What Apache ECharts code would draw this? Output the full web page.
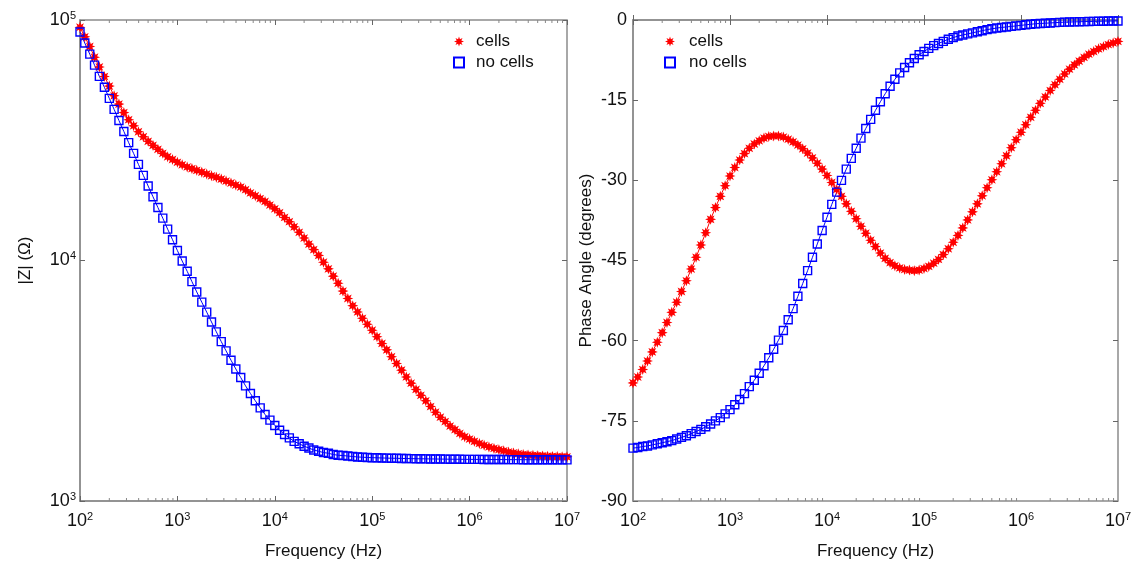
<!DOCTYPE html>
<html>
<head>
<meta charset="utf-8">
<script src="https://cdn.jsdelivr.net/npm/echarts@6/dist/echarts.min.js"></script>
<style>
  html, body { margin: 0; padding: 0; background: #fff; }
  #main { width: 1143px; height: 567px; }
</style>
</head>
<body>
<div id="main"></div>
<script>
// frequency grid (Hz), 20 points per decade
const freq = [
  1.00e2, 1.12e2, 1.26e2, 1.41e2, 1.58e2, 1.78e2, 2.00e2, 2.24e2, 2.51e2, 2.82e2,
  3.16e2, 3.55e2, 3.98e2, 4.47e2, 5.01e2, 5.62e2, 6.31e2, 7.08e2, 7.94e2, 8.91e2,
  1.00e3, 1.12e3, 1.26e3, 1.41e3, 1.58e3, 1.78e3, 2.00e3, 2.24e3, 2.51e3, 2.82e3,
  3.16e3, 3.55e3, 3.98e3, 4.47e3, 5.01e3, 5.62e3, 6.31e3, 7.08e3, 7.94e3, 8.91e3,
  1.00e4, 1.12e4, 1.26e4, 1.41e4, 1.58e4, 1.78e4, 2.00e4, 2.24e4, 2.51e4, 2.82e4,
  3.16e4, 3.55e4, 3.98e4, 4.47e4, 5.01e4, 5.62e4, 6.31e4, 7.08e4, 7.94e4, 8.91e4,
  1.00e5, 1.12e5, 1.26e5, 1.41e5, 1.58e5, 1.78e5, 2.00e5, 2.24e5, 2.51e5, 2.82e5,
  3.16e5, 3.55e5, 3.98e5, 4.47e5, 5.01e5, 5.62e5, 6.31e5, 7.08e5, 7.94e5, 8.91e5,
  1.00e6, 1.12e6, 1.26e6, 1.41e6, 1.58e6, 1.78e6, 2.00e6, 2.24e6, 2.51e6, 2.82e6,
  3.16e6, 3.55e6, 3.98e6, 4.47e6, 5.01e6, 5.62e6, 6.31e6, 7.08e6, 7.94e6, 8.91e6,
  1.00e7
];

// |Z| in ohm
const cellsZ = [
  93300, 85100, 77600, 70000, 63800, 58200, 53100, 48400, 44700, 41200,
  38500, 36300, 34300, 32700, 31300, 30100, 29000, 27900, 27000, 26300,
  25600, 25000, 24500, 24100, 23700, 23300, 22900, 22500, 22200, 21800,
  21400, 21000, 20600, 20200, 19700, 19100, 18600, 18100, 17600, 17000,
  16400, 15800, 15100, 14500, 13800, 13100, 12400, 11700, 11100, 10500,
  9840, 9230, 8610, 8040, 7460, 6950, 6490, 6110, 5750, 5430,
  5130, 4820, 4520, 4250, 3980, 3730, 3500, 3280, 3090, 2910,
  2750, 2610, 2470, 2340, 2230, 2140, 2050, 1980, 1910, 1850,
  1810, 1770, 1735, 1705, 1678, 1655, 1635, 1617, 1600, 1585,
  1572, 1562, 1555, 1549, 1544, 1540, 1536, 1533, 1530, 1528,
  1526
];
const noCellsZ = [
  89100, 80200, 72100, 64900, 58300, 52500, 47200, 42500, 38200, 34400,
  30900, 27900, 25100, 22600, 20400, 18400, 16600, 15000, 13500, 12200,
  11000, 9950, 9020, 8170, 7400, 6710, 6100, 5550, 5050, 4600,
  4210, 3850, 3540, 3260, 3010, 2800, 2610, 2440, 2290, 2170,
  2060, 1970, 1890, 1830, 1770, 1730, 1690, 1660, 1630, 1610,
  1590, 1580, 1560, 1550, 1545, 1538, 1531, 1524, 1521, 1517,
  1514, 1512, 1510, 1508, 1506, 1505, 1503, 1502, 1500, 1499,
  1498, 1497, 1496, 1495, 1494, 1493, 1492, 1491, 1491, 1490,
  1490, 1489, 1489, 1488, 1488, 1487, 1487, 1487, 1486, 1486,
  1486, 1485, 1485, 1485, 1484, 1484, 1484, 1484, 1483, 1483,
  1483
];

// phase angle in degrees
const cellsPhase = [
  -67.9, -66.8, -65.4, -63.8, -62.1, -60.3, -58.5, -56.6, -54.7, -52.8,
  -50.8, -48.8, -46.6, -44.4, -42.1, -39.8, -37.3, -35.1, -33.0, -31.0,
  -29.2, -27.6, -26.2, -25.0, -24.0, -23.2, -22.6, -22.1, -21.8, -21.7,
  -21.7, -21.9, -22.3, -22.8, -23.4, -24.1, -24.9, -25.8, -26.8, -27.9,
  -29.1, -30.4, -31.7, -33.0, -34.4, -35.8, -37.2, -38.6, -39.9, -41.2,
  -42.4, -43.6, -44.6, -45.4, -46.0, -46.4, -46.7, -46.8, -46.9, -46.8,
  -46.5, -46.1, -45.5, -44.8, -43.9, -42.8, -41.6, -40.3, -38.9, -37.4,
  -35.9, -34.4, -32.9, -31.4, -29.9, -28.4, -26.9, -25.4, -23.9, -22.4,
  -21.0, -19.6, -18.2, -16.9, -15.6, -14.4, -13.2, -12.1, -11.1, -10.1,
  -9.2, -8.4, -7.7, -7.0, -6.4, -5.9, -5.4, -5.0, -4.6, -4.3,
  -4.0
];
const noCellsPhase = [
  -80.1, -80.0, -79.8, -79.7, -79.5, -79.3, -79.1, -78.9, -78.7, -78.4,
  -78.1, -77.8, -77.4, -77.0, -76.6, -76.1, -75.6, -75.0, -74.4, -73.7,
  -72.9, -72.0, -71.0, -69.9, -68.6, -67.4, -66.1, -64.7, -63.2, -61.6,
  -59.9, -58.1, -56.1, -54.0, -51.7, -49.3, -46.9, -44.4, -41.9, -39.4,
  -36.9, -34.5, -32.2, -30.0, -27.9, -25.9, -24.0, -22.1, -20.3, -18.6,
  -16.9, -15.3, -13.8, -12.4, -11.1, -9.9, -8.9, -8.0, -7.2, -6.5,
  -5.9, -5.3, -4.8, -4.4, -4.0, -3.6, -3.3, -3.0, -2.8, -2.6,
  -2.4, -2.2, -2.0, -1.8, -1.65, -1.5, -1.4, -1.3, -1.2, -1.1,
  -1.0, -0.9, -0.8, -0.7, -0.65, -0.6, -0.55, -0.5, -0.45, -0.4,
  -0.38, -0.35, -0.33, -0.3, -0.28, -0.26, -0.24, -0.22, -0.2, -0.19,
  -0.18
];

const freqDecades = [1e2, 1e3, 1e4, 1e5, 1e6];
const phaseTicks = [0, -15, -30, -45, -60, -75, -90];

// minor tick positions 2..9 x decade on the frequency axes
const minorFreqs = [];
freqDecades.forEach(d => {
  for (let k = 2; k <= 9; k++) minorFreqs.push(k * d);
});

const FONT = '"Liberation Sans", Arial, sans-serif';
const AXIS_COLOR = '#8c8c8c';
const STAR = 'path://M20 10 L14.6 11.9 L17.07 17.07 L11.9 14.6 L10 20 L8.1 14.6 L2.93 17.07 L5.4 11.9 L0 10 L5.4 8.1 L2.93 2.93 L8.1 5.4 L10 0 L11.9 5.4 L17.07 2.93 L14.6 8.1 Z';

const pow10 = v => {
  const e = Math.round(Math.log10(v));
  return '{b|10}{s|' + e + '}';
};
const powRich = {
  b: { fontSize: 18, fontFamily: FONT, color: '#111' },
  s: { fontSize: 11, fontFamily: FONT, color: '#111', padding: [0, 0, 9, 0] }
};

function logX(grid, pos, labels) {
  return {
    type: 'log', gridIndex: grid, position: pos, min: 1e2, max: 1e7, logBase: 10,
    name: labels ? 'Frequency (Hz)' : '', nameLocation: 'middle', nameGap: 42,
    nameTextStyle: { fontSize: 17, fontFamily: FONT, color: '#111' },
    axisLine: { show: labels, lineStyle: { color: AXIS_COLOR, width: 1.5 } },
    axisTick: { show: true, inside: true, length: 5, lineStyle: { color: '#666' } },
    axisLabel: { show: labels, formatter: pow10, rich: powRich, margin: 10 },
    splitLine: { show: false }
  };
}

// small ticks at 2..9 x decade, bottom and top edge of a panel
function minorTickSeries(xIdx, yIdx, yMin, yMax) {
  return {
    type: 'custom', xAxisIndex: xIdx, yAxisIndex: yIdx, silent: true, clip: false, z: 1,
    data: minorFreqs.map(f => [f, yMin]),
    renderItem: (params, api) => {
      const b = api.coord([api.value(0), yMin]);
      const t = api.coord([api.value(0), yMax]);
      const st = { stroke: '#888', lineWidth: 1 };
      return {
        type: 'group',
        children: [
          { type: 'line', shape: { x1: b[0], y1: b[1], x2: b[0], y2: b[1] - 3 }, style: st },
          { type: 'line', shape: { x1: t[0], y1: t[1], x2: t[0], y2: t[1] + 3 }, style: st }
        ]
      };
    }
  };
}

const chart = echarts.init(document.getElementById('main'));
chart.setOption({
  animation: false,
  backgroundColor: '#fff',
  grid: [
    { left: 80, top: 20, width: 487, height: 481, show: true, borderColor: AXIS_COLOR, borderWidth: 1.5 },
    { left: 633, top: 20, width: 485, height: 481, show: true, borderColor: AXIS_COLOR, borderWidth: 1.5 }
  ],
  legend: [
    {
      orient: 'vertical', left: 448, top: 28, itemWidth: 10, itemHeight: 10, itemGap: 4,
      textStyle: { fontSize: 17, fontFamily: FONT, color: '#111', padding: [0, 0, 0, 7] },
      data: [{ name: 'cells', icon: STAR }, { name: 'no cells', icon: 'rect' }]
    },
    {
      orient: 'vertical', left: 659, top: 28, itemWidth: 10, itemHeight: 10, itemGap: 4,
      textStyle: { fontSize: 17, fontFamily: FONT, color: '#111', padding: [0, 0, 0, 9] },
      data: [{ name: 'cells', icon: STAR }, { name: 'no cells', icon: 'rect' }]
    }
  ],
  xAxis: [
    logX(0, 'bottom', true), logX(0, 'top', false),
    logX(1, 'bottom', true), logX(1, 'top', false)
  ],
  yAxis: [
    {
      type: 'log', gridIndex: 0, min: 1e3, max: 1e5, logBase: 10,
      name: '|Z| (Ω)', nameLocation: 'middle', nameGap: 46,
      nameTextStyle: { fontSize: 17, fontFamily: FONT, color: '#111' },
      axisLine: { show: true, lineStyle: { color: AXIS_COLOR, width: 1.5 } },
      axisTick: { show: true, inside: true, length: 5, lineStyle: { color: '#666' } },
      axisLabel: { formatter: pow10, rich: powRich, margin: 4 },
      splitLine: { show: false }
    },
    {
      type: 'log', gridIndex: 0, position: 'right', min: 1e3, max: 1e5, logBase: 10,
      axisLine: { show: false },
      axisTick: { show: true, inside: true, length: 5, lineStyle: { color: '#666' } },
      axisLabel: { show: false }, splitLine: { show: false }
    },
    {
      type: 'value', gridIndex: 1, min: -90, max: 0, interval: 15,
      name: 'Phase Angle (degrees)', nameLocation: 'middle', nameGap: 38,
      nameTextStyle: { fontSize: 17, fontFamily: FONT, color: '#111' },
      axisLine: { show: true, lineStyle: { color: AXIS_COLOR, width: 1.5 } },
      axisTick: { show: true, inside: true, length: 5, lineStyle: { color: '#666' } },
      axisLabel: { fontSize: 18, fontFamily: FONT, color: '#111', margin: 6 },
      splitLine: { show: false }
    },
    {
      type: 'value', gridIndex: 1, position: 'right', min: -90, max: 0, interval: 15,
      axisLine: { show: false },
      axisTick: { show: true, inside: true, length: 5, lineStyle: { color: '#666' } },
      axisLabel: { show: false }, splitLine: { show: false }
    }
  ],
  series: [
    minorTickSeries(0, 0, 1e3, 1e5),
    minorTickSeries(2, 2, phaseTicks[phaseTicks.length - 1], phaseTicks[0]),
    {
      name: 'cells', type: 'line', xAxisIndex: 0, yAxisIndex: 0, clip: false,
      data: freq.map((f, i) => [f, cellsZ[i]]),
      symbol: STAR, symbolSize: 11, showAllSymbol: true,
      itemStyle: { color: '#ff0000' }, lineStyle: { color: '#ff0000', width: 1 }
    },
    {
      name: 'no cells', type: 'line', xAxisIndex: 0, yAxisIndex: 0, clip: false,
      data: freq.map((f, i) => [f, noCellsZ[i]]),
      symbol: 'rect', symbolSize: 8, showAllSymbol: true,
      itemStyle: { color: 'rgba(255,255,255,0)', borderColor: '#0000ff', borderWidth: 1.4 },
      lineStyle: { color: '#0000ff', width: 1 }
    },
    {
      name: 'cells', type: 'line', xAxisIndex: 2, yAxisIndex: 2, clip: false,
      data: freq.map((f, i) => [f, cellsPhase[i]]),
      symbol: STAR, symbolSize: 11, showAllSymbol: true,
      itemStyle: { color: '#ff0000' }, lineStyle: { color: '#ff0000', width: 1 }
    },
    {
      name: 'no cells', type: 'line', xAxisIndex: 2, yAxisIndex: 2, clip: false,
      data: freq.map((f, i) => [f, noCellsPhase[i]]),
      symbol: 'rect', symbolSize: 8, showAllSymbol: true,
      itemStyle: { color: 'rgba(255,255,255,0)', borderColor: '#0000ff', borderWidth: 1.4 },
      lineStyle: { color: '#0000ff', width: 1 }
    }
  ]
});
</script>
</body>
</html>
